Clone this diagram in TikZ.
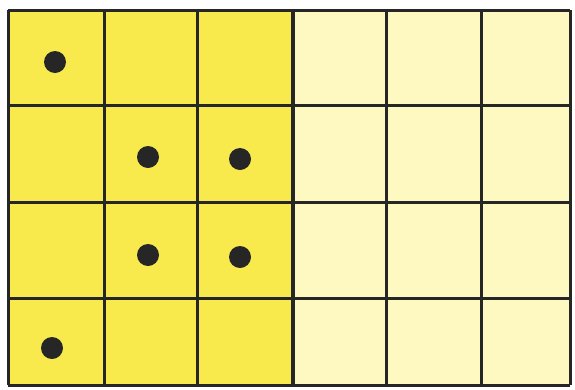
\documentclass[tikz,border=0pt]{standalone}
\begin{document}
\begin{tikzpicture}[x=1pt,y=-1pt,
  gridline/.style={draw=black!85, line width=3pt},
  midline/.style={draw=black!85, line width=4pt},
  dot/.style={circle, fill=black!85, minimum size=22pt, inner sep=0pt}]
\definecolor{darkyel}{HTML}{F8EA4C}
\definecolor{lightyel}{HTML}{FDF9C0}
\useasboundingbox[fill=white] (0,0) rectangle (575,389);
\fill[darkyel] (8,10) rectangle (293,385);
\fill[lightyel] (293,10) rectangle (570,385);
% vertical lines
\foreach \x in {8,104,197,386,481,570} \draw[gridline] (\x,10) -- (\x,385);
\draw[midline] (293,10) -- (293,385);
% horizontal lines
\foreach \y in {10,105,202,298,385} \draw[gridline] (8,\y) -- (570,\y);
\node[dot] (d1) at (55,62) {};
\node[dot] (d2) at (148,157) {};
\node[dot] (d3) at (240,159) {};
\node[dot] (d4) at (148,255) {};
\node[dot] (d5) at (240,257) {};
\node[dot] (d6) at (52,348) {};
\end{tikzpicture}
\end{document}
